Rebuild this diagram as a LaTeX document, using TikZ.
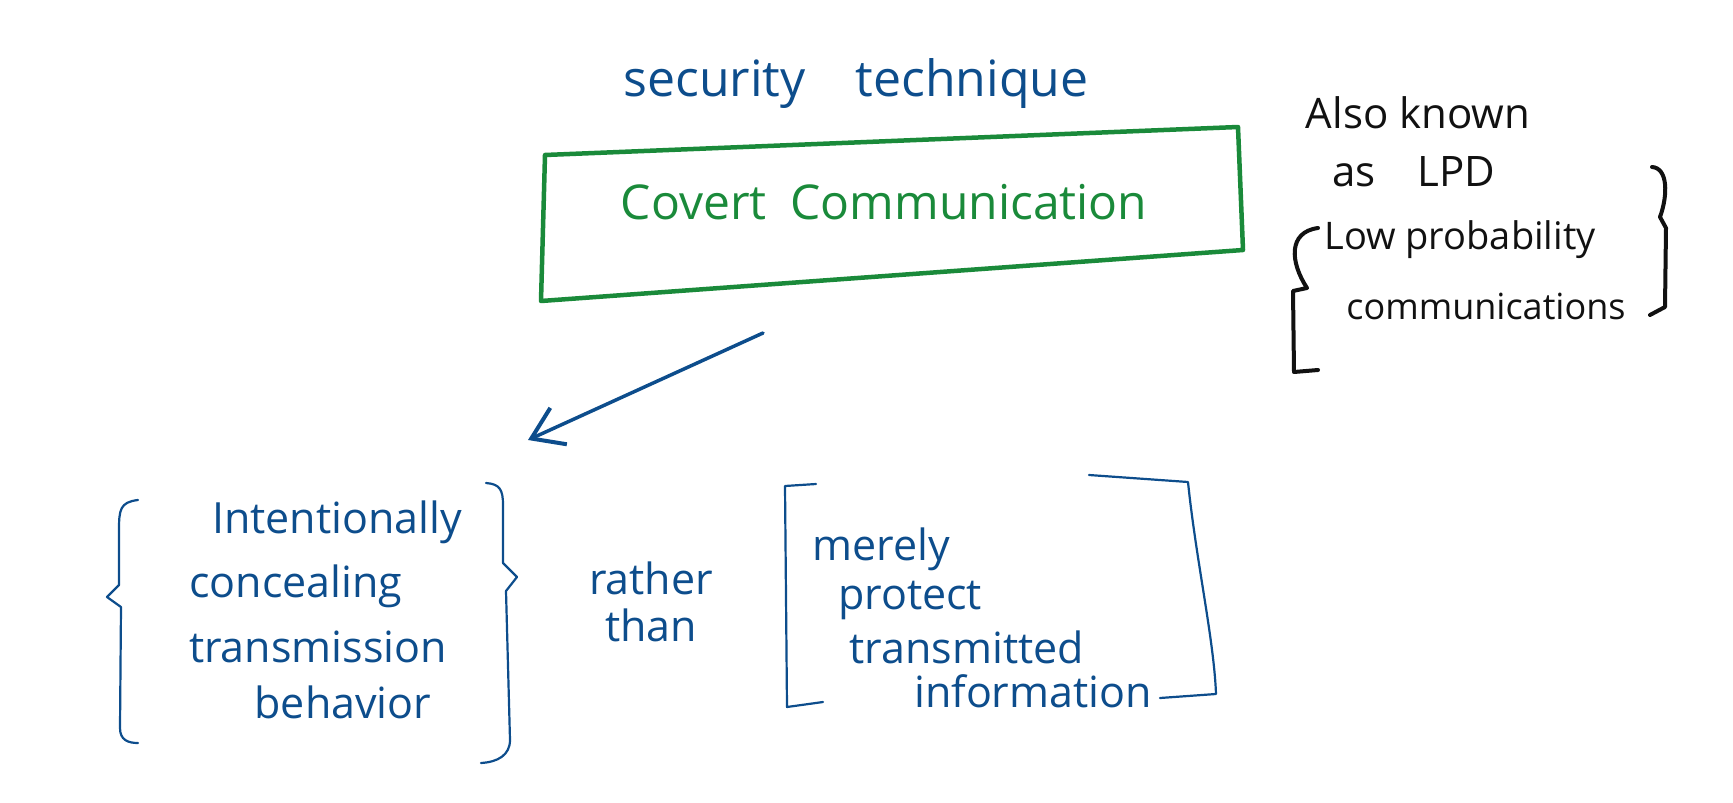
\documentclass[tikz,border=0pt]{standalone}
\usepackage{fontspec}
\setmainfont{Open Sans}
\usepackage{xcolor}
\definecolor{cInk}{HTML}{0D4D8C}
\definecolor{cBox}{HTML}{1A8A3A}
\definecolor{cNote}{HTML}{111111}
\usetikzlibrary{positioning,arrows.meta}
\tikzset{
  ink-txt/.style={text=cInk,inner sep=0pt,font=\fontsize{43}{47}\selectfont},
  box-txt/.style={text=cBox,inner sep=0pt,font=\fontsize{48}{52}\selectfont},
  note-txt/.style={text=cNote,inner sep=0pt,font=\fontsize{42}{46}\selectfont},
  box-line/.style={draw=cBox,line width=4.5pt,line cap=round,line join=round},
  brace-ink/.style={draw=cInk,line width=2.2pt,line cap=round,line join=round},
  brace-note/.style={draw=cNote,line width=4pt,line cap=round,line join=round},
  arrow-ink/.style={-{Straight Barb[length=30pt,width=40pt,line width=4pt]},
    draw=cInk,line width=3.5pt,line cap=round},
}
\begin{document}
\begin{tikzpicture}[x=1pt,y=-1pt]
  \useasboundingbox (0,0) rectangle (1733,803);
  % top: technique and the boxed title
  \node[ink-txt,font=\fontsize{50}{54}\selectfont] (tech) at (856,84) {security\quad technique};
  \node[box-txt] (covert) at (884,202) {Covert\enspace Communication};
  \coordinate (boxTL) at (545,155);
  \coordinate (boxTR) at (1238,127);
  \coordinate (boxBR) at (1243,250);
  \coordinate (boxBL) at (541,301);
  \draw[box-line] (boxTL) -- (boxTR) -- (boxBR) -- (boxBL) -- cycle;
  % side note
  \node[note-txt] (aka) at (1418,113) {Also known};
  \node[note-txt] (lpd) at (1414,172) {as\quad LPD};
  \node[note-txt,font=\fontsize{38}{42}\selectfont] (lowp) at (1460,240) {Low probability};
  \node[note-txt,font=\fontsize{36}{40}\selectfont] (comms) at (1486,306) {communications};
  \draw[brace-note] (1318,228) .. controls (1288,232) and (1290,262) .. (1307,288)
    -- (1293,291) -- (1294,372) -- (1318,370);
  \draw[brace-note] (1652,167) .. controls (1668,168) and (1668,195) .. (1660,217)
    -- (1666,228) -- (1665,307) -- (1650,315);
  % arrow down to the definition
  \coordinate (arrTail) at (763,333);
  \coordinate (arrHead) at (528,440);
  \draw[arrow-ink] (arrTail) -- (arrHead);
  % bottom left group
  \node[ink-txt] (inten) at (337,522) {Intentionally};
  \node[ink-txt] (conceal) at (296,586) {concealing};
  \node[ink-txt] (trans) at (318,647) {transmission};
  \node[ink-txt] (behav) at (343,702) {behavior};
  \draw[brace-ink] (138,500) .. controls (120,502) and (119,510) .. (119,530)
    -- (119,585) -- (107,597) -- (121,607) -- (120,728)
    .. controls (120,740) and (128,743) .. (138,743);
  \draw[brace-ink] (486,483) .. controls (500,484) and (503,490) .. (503,505)
    -- (503,563) -- (517,577) -- (506,591) -- (510,740)
    .. controls (510,755) and (498,762) .. (481,763);
  \node[ink-txt,align=center] (rather) at (651,602) {rather\\than};
  % bottom right group
  \node[ink-txt] (merely) at (881,549) {merely};
  \node[ink-txt] (protect) at (910,600) {protect};
  \node[ink-txt] (transm) at (967,647) {transmitted};
  \node[ink-txt] (info) at (1033,691) {information};
  \draw[brace-ink] (816,484) -- (785,486) -- (787,707) -- (823,702);
  \draw[brace-ink] (1089,475) -- (1188,482)
    .. controls (1196,560) and (1214,640) .. (1216,694) -- (1160,698);
\end{tikzpicture}
\end{document}
